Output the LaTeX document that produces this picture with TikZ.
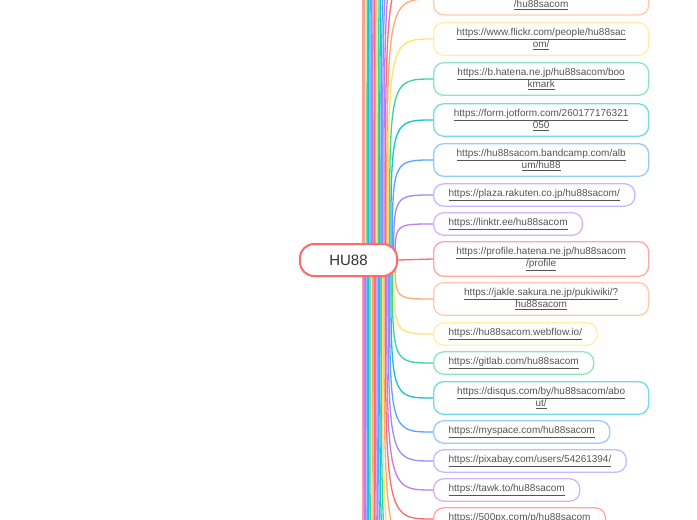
\documentclass[tikz,border=0pt]{standalone}
\usepackage{fontspec}
\setmainfont{Liberation Sans}
\usetikzlibrary{positioning,calc}
\definecolor{c0}{HTML}{FF6B6B}
\definecolor{c1}{HTML}{FFA873}
\definecolor{c2}{HTML}{FFE46E}
\definecolor{c3}{HTML}{3DD39B}
\definecolor{c4}{HTML}{14C3D4}
\definecolor{c5}{HTML}{55A6FF}
\definecolor{c6}{HTML}{9B8CFF}
\definecolor{c7}{HTML}{BC7FF0}
\definecolor{ink}{HTML}{555555}
\pgfdeclarelayer{back}
\pgfsetlayers{back,main}
\newcommand{\ulink}[1]{\underline{#1}}

\begin{document}
\begin{tikzpicture}[x=1pt,y=-1pt,
    leaf/.style={draw=#1!60, fill=white, line width=1.3pt, rounded corners=10pt,
      anchor=west, align=center, inner xsep=15pt, inner ysep=5.5pt,
      minimum height=20pt, text=ink, font=\fontsize{10}{11}\selectfont},
    wide/.style={text width=185pt},
    branch/.style={draw=#1, line width=1.3pt}]
  \useasboundingbox (0,0) rectangle (697,520);

  \node[draw=c0, fill=white, line width=2pt, rounded corners=14pt, minimum width=97pt,
    minimum height=32pt, text=black!80, font=\fontsize{15}{18}\selectfont] (hub) at (348.5,260) {HU88};

  \node[leaf=c1, wide] (top) at (433,-1) {\strut\\\ulink{/hu88sacom}};
  \node[leaf=c2, wide] (flickr) at (433,39) {\ulink{https://www.flickr.com/people/hu88sac}\\\ulink{om/}};
  \node[leaf=c3, wide] (bhatena) at (433,79) {\ulink{https://b.hatena.ne.jp/hu88sacom/boo}\\\ulink{kmark}};
  \node[leaf=c4, wide] (jotform) at (433,120) {\ulink{https://form.jotform.com/260177176321}\\\ulink{050}};
  \node[leaf=c5, wide] (bandcamp) at (433,160) {\ulink{https://hu88sacom.bandcamp.com/alb}\\\ulink{um/hu88}};
  \node[leaf=c6] (plaza) at (433,195) {\ulink{https://plaza.rakuten.co.jp/hu88sacom/}};
  \node[leaf=c7] (linktr) at (433,224) {\ulink{https://linktr.ee/hu88sacom}};
  \node[leaf=c0, wide] (profile) at (433,259) {\ulink{https://profile.hatena.ne.jp/hu88sacom}\\\ulink{/profile}};
  \node[leaf=c1, wide] (jakle) at (433,299) {\ulink{https://jakle.sakura.ne.jp/pukiwiki/?}\\\ulink{hu88sacom}};
  \node[leaf=c2] (webflow) at (433,334) {\ulink{https://hu88sacom.webflow.io/}};
  \node[leaf=c3] (gitlab) at (433,363) {\ulink{https://gitlab.com/hu88sacom}};
  \node[leaf=c4, wide] (disqus) at (433,398) {\ulink{https://disqus.com/by/hu88sacom/abo}\\\ulink{ut/}};
  \node[leaf=c5] (myspace) at (433,432) {\ulink{https://myspace.com/hu88sacom}};
  \node[leaf=c6] (pixabay) at (433,461) {\ulink{https://pixabay.com/users/54261394/}};
  \node[leaf=c7] (tawk) at (433,490) {\ulink{https://tawk.to/hu88sacom}};
  \node[leaf=c0] (px) at (433,519) {\ulink{https://500px.com/p/hu88sacom}};

  \begin{pgfonlayer}{back}
    \fill[white] (0,0) rectangle (697,520);
    \draw[branch=c0] (hub.east) -- (profile.west);
    \foreach \n/\i in {top/-7, flickr/-6, bhatena/-5, jotform/-4, bandcamp/-3, plaza/-2, linktr/-1,
        jakle/1, webflow/2, gitlab/3, disqus/4, myspace/5, pixabay/6, tawk/7, px/8} {
      \pgfmathtruncatemacro{\ci}{Mod(\i,8)}
      \pgfmathsetmacro{\dx}{1.5+1.4*abs(\i)}
      \coordinate (s\n) at ([xshift=-\dx pt]hub.east);
      \draw[branch=c\ci] (s\n) .. controls (s\n |- \n.west) .. (\n.west);
    }
    % branches whose topics lie outside the view
    \foreach \i in {-24,...,-8,9,10,...,24} {
      \pgfmathtruncatemacro{\ci}{Mod(\i,8)}
      \pgfmathsetmacro{\dx}{1.5+1.4*abs(\i)}
      \pgfmathsetmacro{\ye}{\i<0 ? -1-33*(abs(\i)-7) : 519+33*(\i-8)}
      \coordinate (s\i) at ([xshift=-\dx pt]hub.east);
      \coordinate (far\i) at (433,\ye);
      \draw[branch=c\ci] (s\i) .. controls (s\i |- far\i) .. (far\i);
    }
  \end{pgfonlayer}
\end{tikzpicture}
\end{document}
